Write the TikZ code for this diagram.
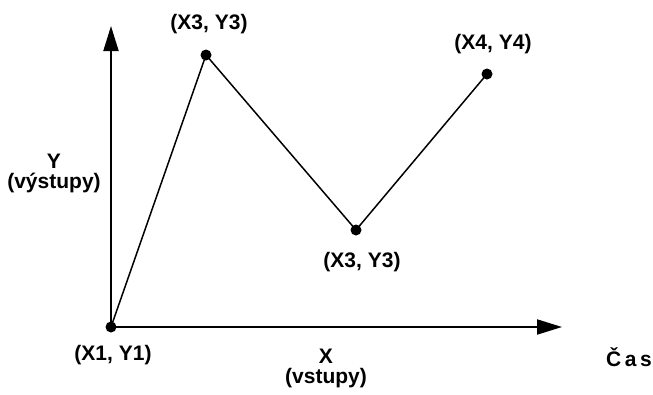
\documentclass[tikz,border=0pt]{standalone}
\usepackage{fontspec}
\setmainfont{Liberation Sans}
\usetikzlibrary{arrows.meta}
\begin{document}
\begin{tikzpicture}[x=1pt,y=-1pt,
  lbl/.style={font=\bfseries\fontsize{21}{23}\selectfont, inner sep=0pt, align=center},
  pt/.style={circle, fill=black, inner sep=0pt, minimum size=11pt},
  axis/.style={line width=2pt, -{Triangle[length=25pt,width=15pt]}},
  seg/.style={line width=1.5pt}]
\useasboundingbox (0,0) rectangle (653,394);
\node[pt] (p1) at (111,327) {};
\node[pt] (p2) at (206,55) {};
\node[pt] (p3) at (356,230) {};
\node[pt] (p4) at (487,74) {};
\coordinate (ytip) at (111,26);
\coordinate (xtip) at (562,327);
\draw[axis] (p1.center) -- (ytip);
\draw[axis] (p1.center) -- (xtip);
\draw[seg] (p1.center) -- (p2.center) -- (p3.center) -- (p4.center);
\node[lbl] (l2) at (209,24) {(X3, Y3)};
\node[lbl] (l4) at (493,44) {(X4, Y4)};
\node[lbl] (l3) at (362,262) {(X3, Y3)};
\node[lbl] (l1) at (113,355) {(X1, Y1)};
\node[lbl] (ly) at (54,173) {Y\\[-3pt](výstupy)};
\node[lbl] (lx) at (326,368) {X\\[-3pt](vstupy)};
\node[lbl] (lc) at (629,357) {Č\,a\,s};
\end{tikzpicture}
\end{document}
